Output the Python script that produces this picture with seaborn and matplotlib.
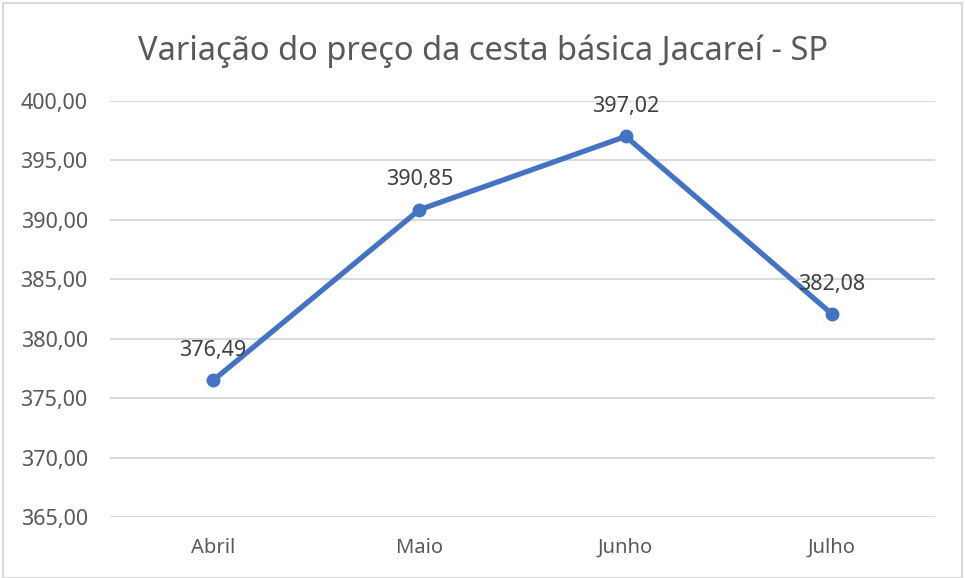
import matplotlib
matplotlib.use("Agg")
import matplotlib.pyplot as plt
import seaborn as sns
import pandas as pd
from matplotlib.ticker import FuncFormatter
from matplotlib.patches import Rectangle

# data
meses = ["Abril", "Maio", "Junho", "Julho"]
precos = [376.49, 390.85, 397.02, 382.08]
y_ticks = [365, 370, 375, 380, 385, 390, 395, 400]

df = pd.DataFrame({"mes": meses, "preco": precos})

sns.set_style("white")
plt.rcParams["font.family"] = ["Noto Sans", "DejaVu Sans"]

fig = plt.figure(figsize=(9.65, 5.78), dpi=100)
ax = fig.add_axes([0.114, 0.1055, 0.855, 0.7198])

sns.lineplot(data=df, x="mes", y="preco", ax=ax, color="#4472C4",
             linewidth=3.8, marker="o", markersize=10, markeredgewidth=0,
             sort=False)

# data labels
for i, v in enumerate(precos):
    ax.annotate(f"{v:.2f}".replace(".", ","), (i, v), xytext=(0, 14),
                textcoords="offset points", ha="center", va="bottom",
                fontsize=15.5, color="#404040")

ax.set_xlim(-0.5, len(meses) - 0.5)
ax.set_ylim(365, 400)
ax.set_yticks(y_ticks)
ax.yaxis.set_major_formatter(FuncFormatter(lambda v, p: f"{v:.2f}".replace(".", ",")))
ax.grid(axis="y", color="#D9D9D9", linewidth=1.4)
ax.set_axisbelow(True)
for s in ax.spines.values():
    s.set_visible(False)
ax.tick_params(axis="both", length=0, labelcolor="#595959")
ax.tick_params(axis="y", pad=16, labelsize=15.5)
ax.tick_params(axis="x", pad=15, labelsize=14.5)
ax.set_xlabel("")
ax.set_ylabel("")

fig.text(0.5, 0.912, "Variação do preço da cesta básica Jacareí - SP",
         ha="center", va="center", fontsize=23.5, color="#595959")

# light border around the chart
fig.patches.append(Rectangle((0.003, 0.0), 0.994, 0.995, transform=fig.transFigure,
                             fill=False, edgecolor="#D9D9D9", linewidth=1.5))

fig.savefig("out.png", dpi=100)
